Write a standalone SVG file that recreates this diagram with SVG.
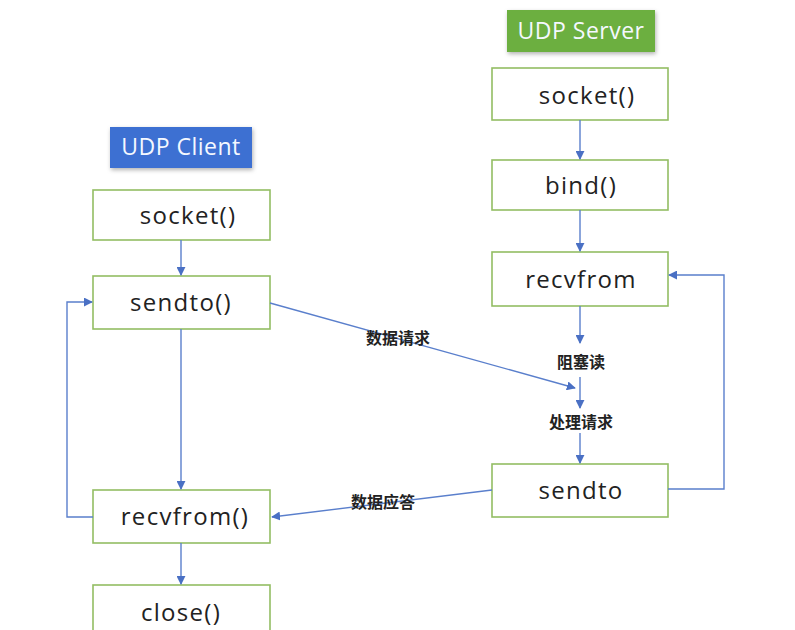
<svg xmlns="http://www.w3.org/2000/svg" width="795" height="630" viewBox="0 0 795 630">
<defs>
<style>
.box{fill:#fff;stroke:#93bd63;stroke-width:1.6}
.t{font-family:"Open Sans","Liberation Sans",sans-serif;font-size:24px;letter-spacing:1.3px;fill:#222;text-anchor:middle}
.tt{font-family:"Open Sans","Liberation Sans",sans-serif;font-size:23px;letter-spacing:0.5px;fill:#f4f8ff;text-anchor:middle}
.lbl{font-family:"Noto Sans CJK SC",sans-serif;font-size:16px;font-weight:bold;fill:#222;text-anchor:middle}
.ln{fill:none;stroke:#5a7fcc;stroke-width:1.4}
</style>
<marker id="ah" viewBox="0 0 10 10" refX="9" refY="5" markerWidth="9" markerHeight="9" markerUnits="userSpaceOnUse" orient="auto">
<path d="M0,0 L10,5 L0,10 z" fill="#4a70c4"/>
</marker>
<filter id="sh" x="-10%" y="-20%" width="130%" height="150%">
<feDropShadow dx="1" dy="2" stdDeviation="2" flood-color="#000" flood-opacity="0.3"/>
</filter>
</defs>
<rect width="795" height="630" fill="#fff"/>
<g id="server-title"><rect x="507" y="10" width="148" height="42" fill="#6caf40" filter="url(#sh)"/><text class="tt" x="581" y="39">UDP Server</text></g>
<g id="client-title"><rect x="110" y="127" width="142" height="41" fill="#3c6fd2" filter="url(#sh)"/><text class="tt" x="181" y="155">UDP Client</text></g>
<g id="s-socket"><rect class="box" x="492" y="68" width="176" height="52"/><text class="t" x="587" y="104">socket()</text></g>
<g id="s-bind"><rect class="box" x="492" y="160" width="176" height="50"/><text class="t" x="581" y="194">bind()</text></g>
<g id="s-recvfrom"><rect class="box" x="492" y="252" width="176" height="54"/><text class="t" x="581" y="288">recvfrom</text></g>
<g id="s-sendto"><rect class="box" x="492" y="464" width="176" height="53"/><text class="t" x="581" y="499">sendto</text></g>
<g id="c-socket"><rect class="box" x="93" y="190" width="177" height="50"/><text class="t" x="188" y="224">socket()</text></g>
<g id="c-sendto"><rect class="box" x="93" y="276" width="177" height="53"/><text class="t" x="181" y="311">sendto()</text></g>
<g id="c-recvfrom"><rect class="box" x="93" y="490" width="177" height="53"/><text class="t" x="185" y="525">recvfrom()</text></g>
<g id="c-close"><rect class="box" x="93" y="585" width="177" height="60"/><text class="t" x="181" y="621">close()</text></g>
<g id="connectors">
<line class="ln" x1="580" y1="120" x2="580" y2="159" marker-end="url(#ah)"/>
<line class="ln" x1="580" y1="210" x2="580" y2="251" marker-end="url(#ah)"/>
<line class="ln" x1="580" y1="306" x2="580" y2="343" marker-end="url(#ah)"/>
<line class="ln" x1="580" y1="377" x2="580" y2="408" marker-end="url(#ah)"/>
<line class="ln" x1="580" y1="433" x2="580" y2="463" marker-end="url(#ah)"/>
<line class="ln" x1="181" y1="240" x2="181" y2="275" marker-end="url(#ah)"/>
<line class="ln" x1="181" y1="329" x2="181" y2="489" marker-end="url(#ah)"/>
<line class="ln" x1="181" y1="543" x2="181" y2="584" marker-end="url(#ah)"/>
<line class="ln" x1="270" y1="303" x2="575" y2="388" marker-end="url(#ah)"/>
<line class="ln" x1="492" y1="490" x2="272" y2="517" marker-end="url(#ah)"/>
<polyline class="ln" points="93,517 67,517 67,302 92,302" marker-end="url(#ah)"/>
<polyline class="ln" points="668,489 724,489 724,275 669,275" marker-end="url(#ah)"/>
</g>
<g id="labels">
<text class="lbl" x="398" y="344">数据请求</text>
<text class="lbl" x="581" y="368" font-size="14">阻塞读</text>
<text class="lbl" x="581" y="428" font-size="14">处理请求</text>
<text class="lbl" x="383" y="508">数据应答</text>
</g>
</svg>
